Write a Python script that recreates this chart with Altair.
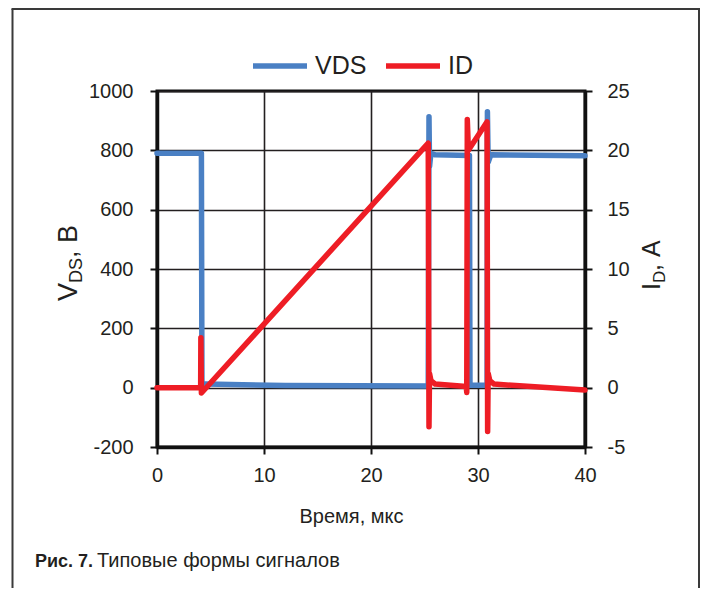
import altair as alt
import pandas as pd

# ---- data ----
t_vds = [0, 4.15, 4.2, 4.6, 8, 12, 25.35, 25.42, 25.47, 25.6, 26.0, 29.2, 29.25, 30.85, 30.88, 30.95, 31.2, 40]
v_ds = [790, 790, 15, 12, 10, 7, 6, 913, 745, 790, 785, 783, 8, 8, 930, 760, 785, 782]

t_id = [0, 4.08, 4.1, 4.15, 25.35, 25.42, 25.47, 25.6, 26.0, 28.9, 28.95, 29.0, 29.1, 30.85, 30.9, 30.95, 31.1, 31.5, 40]
i_d = [0, 0.0, 4.2, -0.45, 20.6, -3.3, 1.2, 0.6, 0.3, 0.1, -0.4, 22.6, 20.0, 22.4, -3.7, 1.2, 0.6, 0.3, -0.2]

series_names = ["VDS", "ID"]
series_colors = ["#4a80c4", "#ee1d25"]

x_ticks = [0, 10, 20, 30, 40]
vds_ticks = [-200, 0, 200, 400, 600, 800, 1000]
id_ticks = [-5, 0, 5, 10, 15, 20, 25]

FONT = "Liberation Sans"
INK = "#231f20"
PLAIN = "'' + datum.value"

W, H = 428, 356

df_v = pd.DataFrame({"t": t_vds, "val": v_ds, "series": "VDS"})
df_i = pd.DataFrame({"t": t_id, "val": i_d, "series": "ID"})

color = alt.Color(
    "series:N",
    scale=alt.Scale(domain=series_names, range=series_colors),
    legend=alt.Legend(
        title=None, orient="none", direction="horizontal",
        legendX=93, legendY=-55,
        symbolType="stroke", symbolSize=2916, symbolStrokeWidth=5.5,
        labelFontSize=25, labelFont=FONT, labelColor=INK, labelOffset=5,
        columnPadding=8, padding=0,
    ),
)

x_enc = alt.X(
    "t:Q",
    scale=alt.Scale(domain=[0, 40], nice=False),
    axis=alt.Axis(
        values=x_ticks, grid=True, title="Время, мкс", labelExpr=PLAIN,
        titleFontSize=20, titleFont=FONT, titleFontWeight="normal", titleColor=INK,
        titleX=194, titleY=75, titleBaseline="alphabetic", titleAlign="center",
        labelFontSize=20, labelPadding=11, labelFlush=False,
    ),
)

vds_line = alt.Chart(df_v).mark_line(strokeWidth=5.5, strokeCap="round", strokeJoin="round").encode(
    x=x_enc,
    y=alt.Y(
        "val:Q",
        scale=alt.Scale(domain=[-200, 1000], nice=False),
        axis=alt.Axis(values=vds_ticks, grid=True, title=None, orient="left",
                      labelExpr=PLAIN, labelFontSize=20, labelPadding=17, labelFlush=False),
    ),
    color=color,
)

id_line = alt.Chart(df_i).mark_line(strokeWidth=5.5, strokeCap="round", strokeJoin="round").encode(
    x=x_enc,
    y=alt.Y(
        "val:Q",
        scale=alt.Scale(domain=[-5, 25], nice=False),
        axis=alt.Axis(values=id_ticks, grid=False, title=None, orient="right",
                      labelExpr=PLAIN, labelFontSize=20, labelPadding=15, labelFlush=False),
    ),
    color=color,
)

one = alt.Data(values=[{"k": 1}])


def txt(s, x, y, size, weight="normal", angle=0, align="left"):
    return alt.Chart(one).mark_text(
        text=s, font=FONT, fontSize=size, fontWeight=weight, color=INK,
        angle=angle, align=align, baseline="alphabetic",
    ).encode(x=alt.value(x), y=alt.value(y))


# axis titles with subscripts (rotated)
y_title = [
    txt("V", -80, 210, 27, angle=270),
    txt("DS", -75, 192, 18, angle=270),
    txt(", В", -80, 167, 27, angle=270),
]
r_title = [
    txt("I", 503, 199, 25, angle=270),
    txt("D", 508, 192, 17, angle=270),
    txt(", А", 503, 180, 25, angle=270),
]
caption = [
    txt("Рис. 7.", -122, 476, 18, weight="bold"),
    txt("Типовые формы сигналов", -60, 476, 20),
]

FR = "#3a3a3a"
frame = [
    alt.Chart(one).mark_rule(color=FR, strokeWidth=2).encode(
        x=alt.value(-144.5), y=alt.value(-82), y2=alt.value(500)),
    alt.Chart(one).mark_rule(color=FR, strokeWidth=2).encode(
        x=alt.value(-145.5), x2=alt.value(543), y=alt.value(-82)),
    alt.Chart(one).mark_rule(color=FR, strokeWidth=2).encode(
        x=alt.value(542), y=alt.value(-83), y2=alt.value(500)),
]

lines = alt.layer(vds_line, id_line).resolve_scale(y="independent")

chart = alt.layer(
    lines, *y_title, *r_title, *caption, *frame
).properties(
    width=W, height=H,
    autosize=alt.AutoSizeParams(type="none"),
    padding={"left": 149, "top": 83, "right": 123, "bottom": 141},
    background="white",
).configure_view(
    stroke="#111111", strokeWidth=3,
).configure_axis(
    domainColor="#111111", domainWidth=3.5,
    gridColor=INK, gridWidth=1.6, gridOpacity=1,
    tickColor="#111111", tickWidth=2, tickSize=7,
    labelFont=FONT, labelColor=INK,
)

chart.save("out.html", embed_options={"renderer": "svg", "actions": False})
